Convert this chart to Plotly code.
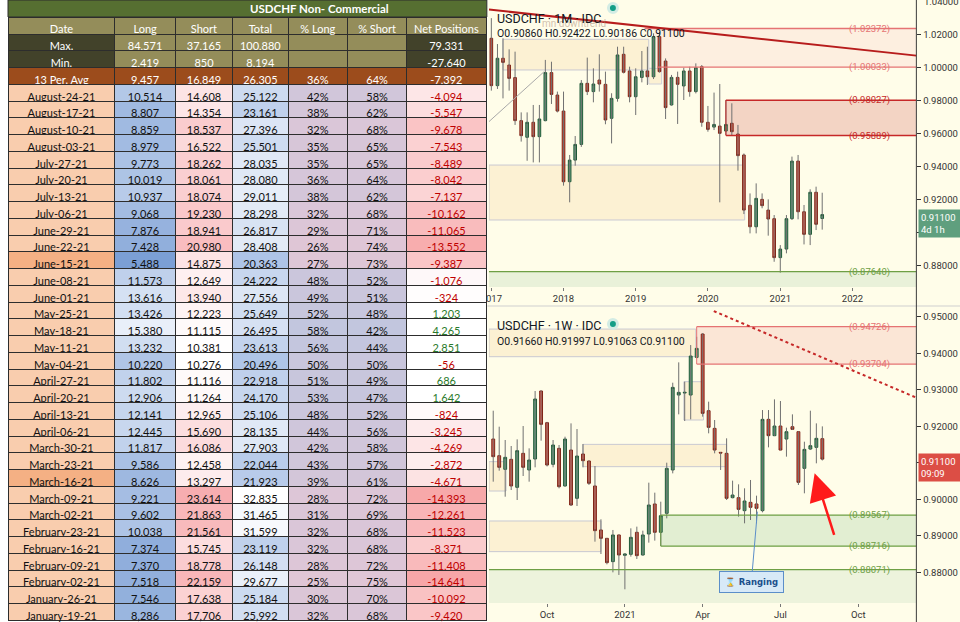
import pandas as pd
import plotly.graph_objects as go

# ---- COT table data ----
dates = ["August-24-21", "August-17-21", "August-10-21", "August-03-21", "July-27-21", "July-20-21",
         "July-13-21", "July-06-21", "June-29-21", "June-22-21", "June-15-21", "June-08-21", "June-01-21",
         "May-25-21", "May-18-21", "May-11-21", "May-04-21", "April-27-21", "April-20-21", "April-13-21",
         "April-06-21", "March-30-21", "March-23-21", "March-16-21", "March-09-21", "March-02-21",
         "February-23-21", "February-16-21", "February-09-21", "February-02-21", "January-26-21",
         "January-19-21"]
long_pos = [10514, 8807, 8859, 8979, 9773, 10019, 10937, 9068, 7876, 7428, 5488, 11573, 13616, 13426,
            15380, 13232, 10220, 11802, 12906, 12141, 12445, 11817, 9586, 8626, 9221, 9602, 10038, 7374,
            7370, 7518, 7546, 8286]
short_pos = [14608, 14354, 18537, 16522, 18262, 18061, 18074, 19230, 18941, 20980, 14875, 12649, 13940,
             12223, 11115, 10381, 10276, 11116, 11264, 12965, 15690, 16086, 12458, 13297, 23614, 21863,
             21561, 15745, 18778, 22159, 17638, 17706]
total_pos = [25122, 23161, 27396, 25501, 28035, 28080, 29011, 28298, 26817, 28408, 20363, 24222, 27556,
             25649, 26495, 23613, 20496, 22918, 24170, 25106, 28135, 27903, 22044, 21923, 32835, 31465,
             31599, 23119, 26148, 29677, 25184, 25992]
pct_long = [42, 38, 32, 35, 35, 36, 38, 32, 29, 26, 27, 48, 49, 52, 58, 56, 50, 51, 53, 48, 44, 42, 43,
            39, 28, 31, 32, 32, 28, 25, 30, 32]
pct_short = [58, 62, 68, 65, 65, 64, 62, 68, 71, 74, 73, 52, 51, 48, 42, 44, 50, 49, 47, 52, 56, 58, 57,
             61, 72, 69, 68, 68, 72, 75, 70, 68]
net_pos = [-4094, -5547, -9678, -7543, -8489, -8042, -7137, -10162, -11065, -13552, -9387, -1076, -324,
           1203, 4265, 2851, -56, 686, 1642, -824, -3245, -4269, -2872, -4671, -14393, -12261, -11523,
           -8371, -11408, -14641, -10092, -9420]
highlight_dates = ["June-15-21", "March-16-21"]

headers = ["Date", "Long", "Short", "Total", "%\u00a0Long", "%\u00a0Short", "Net\u00a0Positions"]
max_row = ["Max.", "84,571", "37,165", "100,880", "", "", "79,331"]
min_row = ["Min.", "2,419", "850", "8,194", "", "", "-27,640"]
avg_row = ["13\u00a0Per.\u00a0Avg", "9,457", "16,849", "26,305", "36%", "64%", "-7,392"]

# ---- monthly USDCHF (Jan 2017 - Aug 2021) ----
m_open = [1.0178, 0.9891, 1.0057, 1.0016, 0.9940, 0.9679, 0.9578, 0.9669, 0.9582, 0.9679, 0.9970, 0.9834,
          0.9737, 0.9309, 0.9440, 0.9535, 0.9905, 0.9855, 0.9925, 0.9899, 0.9693, 0.9814, 1.0081, 0.9980,
          0.9824, 0.9941, 0.9980, 0.9945, 1.0188, 1.0040, 0.9774, 0.9941, 0.9889, 0.9980, 0.9855, 1.0006,
          0.9669, 0.9640, 0.9646, 0.9616, 0.9663, 0.9598, 0.9471, 0.9166, 0.9036, 0.9202, 0.9137, 0.9085,
          0.8849, 0.8901, 0.9085, 0.9434, 0.9127, 0.8990, 0.9245, 0.90860]
m_high = [1.0300, 1.0143, 1.0178, 1.0111, 1.0097, 0.9729, 0.9729, 0.9774, 0.9774, 1.0047, 1.0036, 0.9855,
          0.9855, 0.9471, 0.9586, 0.9925, 1.0061, 0.9996, 1.0081, 0.9976, 0.9845, 1.0127, 1.0127, 1.0006,
          0.9996, 1.0101, 1.0127, 1.0208, 1.0218, 1.0056, 0.9956, 0.9976, 1.0000, 1.0006, 1.0026, 1.0016,
          0.9768, 0.9849, 0.9901, 0.9804, 0.9784, 0.9653, 0.9480, 0.9238, 0.9299, 0.9238, 0.9202, 0.9107,
          0.8925, 0.9107, 0.9461, 0.9471, 0.9168, 0.9263, 0.9279, 0.92422]
m_low = [0.9861, 0.9871, 0.9814, 0.9861, 0.9653, 0.9552, 0.9436, 0.9426, 0.9426, 0.9675, 0.9780, 0.9729,
         0.9285, 0.9184, 0.9406, 0.9520, 0.9834, 0.9790, 0.9855, 0.9657, 0.9541, 0.9794, 0.9965, 0.9790,
         0.9713, 0.9911, 0.9895, 0.9931, 0.9970, 0.9689, 0.9770, 0.9659, 0.9804, 0.9824, 0.9844, 0.9642,
         0.9612, 0.9622, 0.9184, 0.9592, 0.9586, 0.9376, 0.9113, 0.8996, 0.8996, 0.9148, 0.8982, 0.8824,
         0.8758, 0.8875, 0.9077, 0.9081, 0.8929, 0.8925, 0.9016, 0.90186]
m_close = [0.9891, 1.0057, 1.0032, 0.9935, 0.9679, 0.9588, 0.9669, 0.9582, 0.9689, 0.9970, 0.9838, 0.9737,
           0.9309, 0.9440, 0.9535, 0.9905, 0.9855, 0.9901, 0.9901, 0.9683, 0.9814, 1.0077, 0.9972, 0.9824,
           0.9945, 0.9980, 0.9945, 1.0188, 0.9976, 0.9758, 0.9941, 0.9899, 0.9980, 0.9855, 1.0000, 0.9669,
           0.9626, 0.9656, 0.9602, 0.9656, 0.9612, 0.9467, 0.9137, 0.9036, 0.9208, 0.9164, 0.9083, 0.8849,
           0.8901, 0.9085, 0.9434, 0.9127, 0.8990, 0.9245, 0.9051, 0.91100]

# ---- weekly USDCHF (Aug 2020 - Aug 2021) ----
w_open = [0.91650, 0.91194, 0.90820, 0.91094, 0.90327, 0.91258, 0.90802, 0.91103, 0.92965, 0.92098,
          0.90957, 0.91395, 0.90364, 0.91349, 0.90026, 0.91240, 0.91048, 0.90364, 0.89159, 0.88930,
          0.88292, 0.89022, 0.88465, 0.88492, 0.89095, 0.88474, 0.89049, 0.89871, 0.89095, 0.89615,
          0.90802, 0.92855, 0.92910, 0.92855, 0.93886, 0.94525, 0.92426, 0.91942, 0.91285, 0.91258,
          0.90044, 0.90044, 0.89688, 0.89916, 0.89871, 0.89688, 0.92189, 0.91742, 0.92006, 0.91650,
          0.91988, 0.91851, 0.90847, 0.91376, 0.91422, 0.91660]
w_high = [0.92426, 0.91988, 0.91623, 0.91459, 0.91641, 0.92006, 0.91395, 0.92965, 0.92980, 0.92120,
          0.91623, 0.91486, 0.91714, 0.92079, 0.91924, 0.91514, 0.91060, 0.90911, 0.89451, 0.88940,
          0.89159, 0.89035, 0.88520, 0.89204, 0.89250, 0.89140, 0.90455, 0.90181, 0.89934, 0.91002,
          0.93193, 0.93750, 0.93220, 0.94224, 0.94450, 0.94550, 0.92673, 0.92171, 0.91290, 0.91669,
          0.90510, 0.90409, 0.90300, 0.90528, 0.90099, 0.92444, 0.92444, 0.92736, 0.92691, 0.91961,
          0.92326, 0.91860, 0.91577, 0.92426, 0.92079, 0.91997]
w_low = [0.90482, 0.90783, 0.90071, 0.90254, 0.89980, 0.90637, 0.90482, 0.90875, 0.91605, 0.90900,
         0.90875, 0.90300, 0.90345, 0.89816, 0.89816, 0.90875, 0.90391, 0.88839, 0.88501, 0.88218,
         0.87999, 0.87927, 0.87534, 0.88429, 0.88365, 0.88456, 0.88812, 0.88867, 0.88721, 0.89478,
         0.90710, 0.92326, 0.92143, 0.92189, 0.93859, 0.92262, 0.91806, 0.91258, 0.90802, 0.89980,
         0.90026, 0.89524, 0.89341, 0.89432, 0.89341, 0.89642, 0.91422, 0.91730, 0.91340, 0.91167,
         0.91897, 0.90391, 0.90163, 0.91349, 0.90984, 0.91063]
w_close = [0.91167, 0.90875, 0.91149, 0.90364, 0.91331, 0.90875, 0.91075, 0.92746, 0.92052, 0.90938,
           0.91486, 0.90345, 0.91650, 0.89843, 0.91185, 0.91057, 0.90437, 0.89140, 0.88930, 0.88264,
           0.89022, 0.88474, 0.88501, 0.88958, 0.88456, 0.89022, 0.89843, 0.89095, 0.89551, 0.90847,
           0.93065, 0.92928, 0.92928, 0.93923, 0.94133, 0.92353, 0.91970, 0.91349, 0.91267, 0.90026,
           0.90117, 0.89724, 0.89953, 0.89779, 0.89752, 0.92189, 0.91742, 0.92006, 0.91349, 0.91851,
           0.91915, 0.90464, 0.91367, 0.91468, 0.91669, 0.91100]

m_dates = pd.date_range("2017-01-01", periods=len(m_open), freq="MS")
w_dates = pd.date_range("2020-08-03", periods=len(w_open), freq="W-MON")

# drawn levels / zones
m_levels = [1.02372, 1.00033, 0.98027, 0.95889, 0.87640]
m_level_start = ["2019-02-15", "2019-04-20", "2020-04-01", "2020-04-01", "2016-12-20"]
m_level_color = ["#e57373", "#e57373", "#c62828", "#c62828", "#6e9f45"]
w_levels = [0.94726, 0.93704, 0.89567, 0.88716, 0.88071]
w_level_start = ["2021-03-29", "2021-03-29", "2021-02-15", "2021-02-15", "2020-07-29"]
w_level_color = ["#e57373", "#e57373", "#6e9f45", "#6e9f45", "#6e9f45"]

m_range = ["2016-12-20", "2022-11-20"]
w_range = ["2020-07-29", "2021-12-11"]

BG = "#fffde9"
CREAM = "#fcf1d3"
GREEN_UP, GREEN_LINE = "#5aa37a", "#1f5a38"
RED_DN, RED_LINE = "#ea503c", "#7e2316"


def mix(c1, c2, t):
    t = max(0.0, min(1.0, t))
    a = [int(c1[i:i + 2], 16) for i in (1, 3, 5)]
    b = [int(c2[i:i + 2], 16) for i in (1, 3, 5)]
    return "#" + "".join(f"{round(a[k] + (b[k] - a[k]) * t):02x}" for k in range(3))


def scale(vals, v):
    return (v - min(vals)) / (max(vals) - min(vals))


# ---- table cell fills ----
dark_olive, tan, brown = "#42422a", "#948d5a", "#9c4c1c"
top_fill = [[dark_olive, dark_olive, brown]] + [[tan, tan, brown]] * 5 + [[dark_olive, dark_olive, brown]]

date_fill = ["#f4b084" if d in highlight_dates else "#f9cdae" for d in dates]
long_fill = [mix("#7b9fd5", "#e9eff9", scale(long_pos, v)) for v in long_pos]
short_fill = [mix("#ffffff", "#f7adb0", scale(short_pos, v)) for v in short_pos]
total_fill = [mix("#aec4e7", "#ffffff", scale(total_pos, v)) for v in total_pos]
pct_fill = [mix("#e0c6d6", "#c2c6de", (p - 25) / 33) for p in pct_long]
net_fill = [mix("#ffffff", "#f7a6a8", -v / 14641) if v < 0 else "#ffffff" for v in net_pos]

fills = [top_fill[0] + date_fill, top_fill[1] + long_fill, top_fill[2] + short_fill,
         top_fill[3] + total_fill, top_fill[4] + pct_fill, top_fill[5] + pct_fill,
         top_fill[6] + net_fill]

fmt = lambda v: f"{v:,}"
cols = [
    dates, [fmt(v) for v in long_pos], [fmt(v) for v in short_pos], [fmt(v) for v in total_pos],
    [f"{p}%" for p in pct_long], [f"{p}%" for p in pct_short], [fmt(v) for v in net_pos],
]
values, font_colors = [], []
for i, col in enumerate(cols):
    values.append([max_row[i], min_row[i], avg_row[i]] + col)
    if i == 6:
        data_col = ["#c00000" if v < 0 else "#2a7a2a" for v in net_pos]
    else:
        data_col = ["#111111"] * len(col)
    font_colors.append(["white", "white", "white"] + data_col)

fig = go.Figure()

fig.add_trace(go.Table(
    domain=dict(x=[0, 0.503], y=[0, 1 - 17 / 622]),
    columnwidth=[108, 61, 58, 56, 60, 60, 80],
    header=dict(values=headers, fill_color=tan, align="center", height=17,
                font=dict(family="Lato", size=11, color="white"),
                line=dict(color="#2d2d2d", width=1)),
    cells=dict(values=values, fill_color=fills, align="center", height=16.75,
               font=dict(family="Lato", size=11, color=font_colors),
               line=dict(color="#2d2d2d", width=1)),
))


def add_wicks(dates_, highs, lows, xa, ya):
    xs, ys = [], []
    for d, h, l in zip(dates_, highs, lows):
        xs += [d, d, None]
        ys += [l, h, None]
    fig.add_trace(go.Scatter(x=xs, y=ys, mode="lines", line=dict(color="#707070", width=1),
                             hoverinfo="skip", xaxis=xa, yaxis=ya))


def add_bodies(dates_, o, c, xa, ya):
    fig.add_trace(go.Candlestick(
        x=dates_, open=o, close=c,
        high=[max(a, b) for a, b in zip(o, c)], low=[min(a, b) for a, b in zip(o, c)],
        increasing=dict(fillcolor=GREEN_UP, line=dict(color=GREEN_LINE, width=1)),
        decreasing=dict(fillcolor=RED_DN, line=dict(color=RED_LINE, width=1)),
        whiskerwidth=0, xaxis=xa, yaxis=ya))


add_wicks(m_dates, m_high, m_low, "x", "y")
add_bodies(m_dates, m_open, m_close, "x", "y")
add_wicks(w_dates, w_high, w_low, "x2", "y2")
add_bodies(w_dates, w_open, w_close, "x2", "y2")

shapes = []
# right pane background
shapes.append(dict(type="rect", xref="paper", yref="paper", x0=0.5035, x1=1, y0=0, y1=1,
                   fillcolor=BG, line_width=0, layer="below"))


def rect(xa, ya, x0, x1, y0, y1, fill, line_color="rgba(0,0,0,0)", lw=0):
    shapes.append(dict(type="rect", xref=xa, yref=ya, x0=x0, x1=x1, y0=y0, y1=y1,
                       fillcolor=fill, line=dict(color=line_color, width=lw), layer="below"))


# ---- top (monthly) drawings ----
rect("x", "y", "2017-03-01", "2019-03-08", 0.9986, 1.0172, CREAM, "#c9c9d2", 1)
rect("x", "y", m_range[0], "2020-07-05", 0.9077, 0.9410, CREAM, "#c9c9d2", 1)
rect("x", "y", "2019-03-08", "2019-05-12", 0.9901, 0.9996, CREAM, "#d0d0d8", 1)
rect("x", "y", "2019-04-01", m_range[1], m_levels[1], m_levels[0], "#fdefe0")
rect("x", "y", "2020-04-01", m_range[1], m_levels[3], m_levels[2], "#f3d4c4")
rect("x", "y", m_range[0], m_range[1], 0.8600, m_levels[4], "#e9f1d9")
shapes.append(dict(type="line", xref="x", yref="y", x0="2020-04-01", x1="2020-04-01",
                   y0=m_levels[3], y1=m_levels[2], line=dict(color="#c62828", width=1)))
for lv, st, colr in zip(m_levels, m_level_start, m_level_color):
    shapes.append(dict(type="line", xref="x", yref="y", x0=st, x1=m_range[1], y0=lv, y1=lv,
                       line=dict(color=colr, width=1.3)))
shapes.append(dict(type="line", xref="x", yref="y", x0=m_range[0], x1="2017-09-25", y0=0.9673, y1=0.9976,
                   line=dict(color="#a8a8a8", width=1)))
shapes.append(dict(type="line", xref="x", yref="y", x0=m_range[0], x1=m_range[1], y0=1.0352, y1=1.0073,
                   line=dict(color="#b71c1c", width=2)))

# ---- bottom (weekly) drawings ----
rect("x2", "y2", w_range[0], "2021-03-28", 0.93905, 0.94662, CREAM, "#c9c9d2", 1)
rect("x2", "y2", "2020-11-16", "2021-05-03", 0.90893, 0.91504, CREAM, "#c9c9d2", 1)
rect("x2", "y2", w_range[0], "2020-12-07", 0.88566, 0.89405, CREAM, "#c9c9d2", 1)
rect("x2", "y2", w_range[0], "2020-08-18", 0.90226, 0.91030, CREAM, "#c9c9d2", 1)
rect("x2", "y2", "2021-03-14", "2021-04-06", 0.92171, 0.93220, CREAM, "#c9c9d2", 1)
rect("x2", "y2", "2021-03-29", w_range[1], w_levels[1], w_levels[0], "#fbe6d6")
rect("x2", "y2", "2021-02-15", w_range[1], w_levels[3], w_levels[2], "#e2eed2")
rect("x2", "y2", w_range[0], w_range[1], 0.8650, w_levels[4], "#edf3dc")
shapes.append(dict(type="line", xref="x2", yref="y2", x0="2021-03-29", x1="2021-03-29",
                   y0=w_levels[1], y1=w_levels[0], line=dict(color="#e57373", width=1)))
shapes.append(dict(type="line", xref="x2", yref="y2", x0="2021-02-15", x1="2021-02-15",
                   y0=w_levels[3], y1=w_levels[2], line=dict(color="#6e9f45", width=1)))
for lv, st, colr in zip(w_levels, w_level_start, w_level_color):
    shapes.append(dict(type="line", xref="x2", yref="y2", x0=st, x1=w_range[1], y0=lv, y1=lv,
                       line=dict(color=colr, width=1.3)))
shapes.append(dict(type="line", xref="x2", yref="y2", x0="2021-04-18", x1=w_range[1], y0=0.95155, y1=0.92782,
                   line=dict(color="#c62828", width=2, dash="dot")))

# pane separator + price axis line
shapes.append(dict(type="line", xref="paper", yref="paper", x0=0.5035, x1=1, y0=1 - 306 / 622,
                   y1=1 - 306 / 622, line=dict(color="#cfcfcf", width=1)))
shapes.append(dict(type="line", xref="paper", yref="paper", x0=916 / 960, x1=916 / 960, y0=0, y1=1,
                   line=dict(color="#3a3a3a", width=1)))
# status dots
for cy in (8, 324):
    shapes.append(dict(type="circle", xref="paper", yref="paper", x0=604 / 960, x1=616 / 960,
                       y0=1 - (cy + 6) / 622, y1=1 - (cy - 6) / 622, fillcolor="#d3ece4", line_width=0))
    shapes.append(dict(type="circle", xref="paper", yref="paper", x0=607 / 960, x1=613 / 960,
                       y0=1 - (cy + 3) / 622, y1=1 - (cy - 3) / 622, fillcolor="#139e86", line_width=0))
# table title bar
shapes.append(dict(type="rect", xref="paper", yref="paper", x0=0, x1=0.503, y0=1 - 17 / 622, y1=1,
                   fillcolor="#566f31", line=dict(color="#2d2d2d", width=1)))

ann = []
ann.append(dict(xref="paper", yref="paper", x=242 / 960, y=1 - 8.5 / 622, text="<b>USDCHF Non- Commercial</b>",
                showarrow=False, yanchor="middle", font=dict(family="Lato", size=11.5, color="white")))

legend_font = dict(family="Roboto", size=12.5, color="#131722")
ohlc_font = dict(family="Roboto", size=10.5, color="#131722")
ann.append(dict(xref="paper", yref="paper", x=536 / 960, y=1 - 16 / 622, text="mn downtrend", showarrow=False,
                xanchor="left", font=dict(family="Roboto", size=10, color="rgba(170,140,120,0.55)")))
ann.append(dict(xref="paper", yref="paper", x=491 / 960, y=1 - 9 / 622, text="USDCHF · 1M · IDC",
                showarrow=False, xanchor="left", font=legend_font))
ann.append(dict(xref="paper", yref="paper", x=491 / 960, y=1 - 25 / 622,
                text=f"O{m_open[-1]:.5f} H{m_high[-1]:.5f} L{m_low[-1]:.5f} C{m_close[-1]:.5f}",
                showarrow=False, xanchor="left", font=ohlc_font))
ann.append(dict(xref="paper", yref="paper", x=491 / 960, y=1 - 325 / 622, text="USDCHF · 1W · IDC",
                showarrow=False, xanchor="left", font=legend_font))
ann.append(dict(xref="paper", yref="paper", x=491 / 960, y=1 - 341 / 622,
                text=f"O{w_open[-1]:.5f} H{w_high[-1]:.5f} L{w_low[-1]:.5f} C{w_close[-1]:.5f}",
                showarrow=False, xanchor="left", font=ohlc_font))

for lv, colr in zip(m_levels, m_level_color):
    ann.append(dict(xref="paper", yref="y", x=891 / 960, y=lv, text=f"({lv:.5f})", showarrow=False,
                    font=dict(family="Roboto", size=9.5, color=colr)))
for lv, colr in zip(w_levels, w_level_color):
    ann.append(dict(xref="paper", yref="y2", x=891 / 960, y=lv, text=f"({lv:.5f})", showarrow=False,
                    font=dict(family="Roboto", size=9.5, color=colr)))

# top price label partly above the pane, as in the reference
ann.append(dict(xref="paper", yref="paper", x=922 / 960, y=1 - 1.7 / 622, text="1.04000", showarrow=False,
                xanchor="left", yanchor="middle", font=dict(family="Roboto", size=9.5, color="#333333")))

# last-price boxes
ann.append(dict(xref="paper", yref="y", x=917.5 / 960, y=m_close[-1], yshift=6, yanchor="top", xanchor="left",
                text=f"{m_close[-1]:.5f}<br>4d 1h", showarrow=False, align="left", bgcolor="#5f9f7e",
                width=38, borderpad=2, font=dict(family="Roboto", size=9.5, color="white")))
ann.append(dict(xref="paper", yref="y2", x=917.5 / 960, y=w_close[-1], yshift=6, yanchor="top", xanchor="left",
                text=f"{w_close[-1]:.5f}<br>09:09", showarrow=False, align="left", bgcolor="#dc4e45",
                width=38, borderpad=2, font=dict(family="Roboto", size=9.5, color="white")))

# callout + arrow
ann.append(dict(xref="x2", yref="y2", x="2021-06-08", y=0.8966, ax=-6, ay=70, text="⌛ <b>Ranging</b>",
                showarrow=True, arrowhead=0, arrowwidth=1, arrowcolor="#5b8ec9", bgcolor="#d7e9f7",
                bordercolor="#5b8ec9", borderwidth=1, borderpad=5,
                font=dict(family="DejaVu Sans", size=8.5, color="#1b4f8b")))
ann.append(dict(xref="x2", yref="y2", x="2021-08-14", y=0.9071, ax=20, ay=63, text="", showarrow=True,
                arrowhead=2, arrowsize=2.2, arrowwidth=2.5, arrowcolor="#ff1a1a"))

axis_font = dict(family="Roboto", size=9.5, color="#333333")
fig.update_layout(
    width=960, height=622, margin=dict(l=0, r=0, t=0, b=0),
    paper_bgcolor="white", plot_bgcolor="rgba(0,0,0,0)", showlegend=False, boxgap=0.32,
    shapes=shapes, annotations=ann,
    xaxis=dict(domain=[485 / 960, 916 / 960], anchor="y", type="date", range=m_range,
               tickvals=[f"{y}-01-01" for y in range(2017, 2023)], ticktext=[str(y) for y in range(2017, 2023)],
               ticks="outside", ticklen=3, tickcolor="#777", showgrid=False, zeroline=False,
               rangeslider=dict(visible=False), tickfont=axis_font),
    yaxis=dict(domain=[1 - 287 / 622, 1], anchor="x", side="right", range=[0.8671, 1.041],
               tickvals=[0.88 + 0.02 * i for i in range(8)], tickformat=".5f", ticks="outside", ticklen=4,
               tickcolor="#333", showgrid=False, zeroline=False, tickfont=axis_font),
    xaxis2=dict(domain=[485 / 960, 916 / 960], anchor="y2", type="date", range=w_range,
                tickvals=["2020-10-05", "2021-01-04", "2021-04-05", "2021-07-05", "2021-10-04"],
                ticktext=["Oct", "2021", "Apr", "Jul", "Oct"],
                ticks="outside", ticklen=3, tickcolor="#777", showgrid=False, zeroline=False,
                rangeslider=dict(visible=False), tickfont=axis_font),
    yaxis2=dict(domain=[1 - 603 / 622, 1 - 307 / 622], anchor="x2", side="right", range=[0.87159, 0.95266],
                tickvals=[0.88 + 0.01 * i for i in range(8)], tickformat=".5f", ticks="outside", ticklen=4,
                tickcolor="#333", showgrid=False, zeroline=False, tickfont=axis_font),
)

fig.write_html("out.html", config={"displayModeBar": False},
               post_script="document.body.style.margin='0';document.body.style.overflow='hidden';")
